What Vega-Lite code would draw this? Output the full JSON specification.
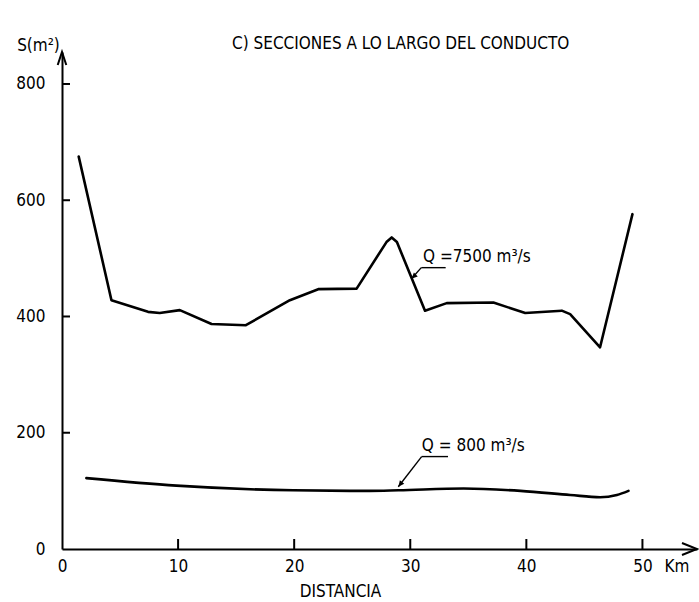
{
  "$schema": "https://vega.github.io/schema/vega-lite/v6.json",
  "width": 635,
  "height": 497,
  "autosize": {"type": "none"},
  "padding": {"left": 62, "top": 52, "right": 2, "bottom": 53},
  "background": "white",
  "config": {
    "font": "DejaVu Sans Condensed",
    "view": {"stroke": null},
    "axis": {
      "grid": false,
      "ticks": false,
      "domainColor": "black",
      "domainWidth": 2,
      "labelColor": "black",
      "labelFontSize": 17,
      "labelFont": "DejaVu Sans Condensed",
      "titleFont": "DejaVu Sans Condensed",
      "titleColor": "black",
      "titleFontWeight": "normal",
      "titleFontSize": 17
    }
  },
  "title": {
    "text": "C) SECCIONES A LO LARGO DEL CONDUCTO",
    "frame": "group",
    "anchor": "start",
    "dx": 170,
    "dy": 21,
    "offset": 4,
    "fontSize": 17,
    "fontWeight": "normal",
    "font": "DejaVu Sans Condensed",
    "color": "black"
  },
  "datasets": {
    "curves": [
      {"serie": "7500", "km": 1.44, "s": 675},
      {"serie": "7500", "km": 4.26, "s": 428},
      {"serie": "7500", "km": 7.41, "s": 408},
      {"serie": "7500", "km": 8.42, "s": 406},
      {"serie": "7500", "km": 10.15, "s": 411},
      {"serie": "7500", "km": 12.88, "s": 387},
      {"serie": "7500", "km": 15.84, "s": 385},
      {"serie": "7500", "km": 19.63, "s": 428},
      {"serie": "7500", "km": 22.07, "s": 447},
      {"serie": "7500", "km": 25.38, "s": 448},
      {"serie": "7500", "km": 27.95, "s": 528},
      {"serie": "7500", "km": 28.4, "s": 536},
      {"serie": "7500", "km": 28.85, "s": 528},
      {"serie": "7500", "km": 31.27, "s": 410},
      {"serie": "7500", "km": 33.14, "s": 423},
      {"serie": "7500", "km": 37.16, "s": 424},
      {"serie": "7500", "km": 39.9, "s": 406},
      {"serie": "7500", "km": 43.05, "s": 410},
      {"serie": "7500", "km": 43.77, "s": 404},
      {"serie": "7500", "km": 46.35, "s": 347},
      {"serie": "7500", "km": 49.14, "s": 576},
      {"serie": "800", "km": 2.1, "s": 122},
      {"serie": "800", "km": 9.86, "s": 109},
      {"serie": "800", "km": 19.9, "s": 101},
      {"serie": "800", "km": 26.5, "s": 100},
      {"serie": "800", "km": 29.0, "s": 101},
      {"serie": "800", "km": 34.6, "s": 104},
      {"serie": "800", "km": 39.5, "s": 100},
      {"serie": "800", "km": 43.77, "s": 93},
      {"serie": "800", "km": 46.35, "s": 89},
      {"serie": "800", "km": 47.8, "s": 93},
      {"serie": "800", "km": 48.8, "s": 100}
    ],
    "notes": [
      {"serie": "7500", "label": "Q =7500  m³/s", "tx": 31.1, "ty": 502, "ux1": 30.95, "ux2": 33.05, "uy": 484, "tipx": 30.1, "tipy": 465},
      {"serie": "800", "label": "Q = 800 m³/s", "tx": 31.0, "ty": 177, "ux1": 30.98, "ux2": 33.25, "uy": 159, "tipx": 28.97, "tipy": 107}
    ],
    "xticks": [{"v": 10}, {"v": 20}, {"v": 30}, {"v": 40}, {"v": 50}],
    "yticks": [{"v": 200}, {"v": 400}, {"v": 600}, {"v": 800}],
    "axisends": [
      {"end": "x", "km": 54.7, "s": 0},
      {"end": "y", "km": 0, "s": 855}
    ],
    "unit": [
      {"km": 51.9, "s": 0, "label": "Km"}
    ]
  },
  "layer": [
    {
      "data": {"name": "curves"},
      "transform": [{"filter": "datum.serie === '7500'"}],
      "mark": {"type": "line", "color": "black", "strokeWidth": 2.6, "strokeJoin": "round", "strokeCap": "round"},
      "encoding": {
        "x": {
          "field": "km", "type": "quantitative",
          "scale": {"domain": [0, 54.7], "nice": false, "zero": false},
          "axis": {
            "values": [0, 10, 20, 30, 40, 50],
            "labelPadding": 9,
            "labelFlush": false,
            "title": "DISTANCIA",
            "titleX": 278,
            "titleY": 42,
            "titleAlign": "center",
            "titleBaseline": "middle"
          }
        },
        "y": {
          "field": "s", "type": "quantitative",
          "scale": {"domain": [0, 855], "nice": false},
          "axis": {
            "values": [0, 200, 400, 600, 800],
            "labelPadding": 17,
            "labelFlush": false,
            "title": "S(m²)",
            "titleAngle": 0,
            "titleX": -24,
            "titleY": -7,
            "titleAlign": "center",
            "titleBaseline": "middle"
          }
        }
      }
    },
    {
      "data": {"name": "curves"},
      "transform": [{"filter": "datum.serie === '800'"}],
      "mark": {"type": "line", "color": "black", "strokeWidth": 2.6, "interpolate": "monotone", "strokeCap": "round"},
      "encoding": {
        "x": {"field": "km", "type": "quantitative"},
        "y": {"field": "s", "type": "quantitative"}
      }
    },
    {
      "data": {"name": "xticks"},
      "mark": {"type": "tick", "orient": "vertical", "color": "black", "thickness": 2, "size": 10, "opacity": 1},
      "encoding": {
        "x": {"field": "v", "type": "quantitative"},
        "y": {"datum": 8.6, "type": "quantitative"}
      }
    },
    {
      "data": {"name": "yticks"},
      "mark": {"type": "tick", "orient": "horizontal", "color": "black", "thickness": 2, "size": 8, "opacity": 1},
      "encoding": {
        "y": {"field": "v", "type": "quantitative"},
        "x": {"datum": 0.345, "type": "quantitative"}
      }
    },
    {
      "data": {"name": "notes"},
      "mark": {"type": "rule", "color": "black", "strokeWidth": 1.4},
      "encoding": {
        "x": {"field": "ux1", "type": "quantitative"},
        "x2": {"field": "ux2"},
        "y": {"field": "uy", "type": "quantitative"},
        "y2": {"field": "uy"}
      }
    },
    {
      "data": {"name": "notes"},
      "mark": {"type": "rule", "color": "black", "strokeWidth": 1.4},
      "encoding": {
        "x": {"field": "ux1", "type": "quantitative"},
        "x2": {"field": "tipx"},
        "y": {"field": "uy", "type": "quantitative"},
        "y2": {"field": "tipy"}
      }
    },
    {
      "data": {"name": "notes"},
      "transform": [{"filter": "datum.serie === '7500'"}],
      "mark": {"type": "point", "shape": "M0,0L0.45,1L-0.45,1Z", "filled": true, "color": "black", "size": 150, "angle": 226, "opacity": 1},
      "encoding": {
        "x": {"field": "tipx", "type": "quantitative"},
        "y": {"field": "tipy", "type": "quantitative"}
      }
    },
    {
      "data": {"name": "notes"},
      "transform": [{"filter": "datum.serie === '800'"}],
      "mark": {"type": "point", "shape": "M0,0L0.45,1L-0.45,1Z", "filled": true, "color": "black", "size": 150, "angle": 218, "opacity": 1},
      "encoding": {
        "x": {"field": "tipx", "type": "quantitative"},
        "y": {"field": "tipy", "type": "quantitative"}
      }
    },
    {
      "data": {"name": "notes"},
      "mark": {"type": "text", "align": "left", "baseline": "middle", "fontSize": 17, "font": "DejaVu Sans Condensed", "color": "black"},
      "encoding": {
        "x": {"field": "tx", "type": "quantitative"},
        "y": {"field": "ty", "type": "quantitative"},
        "text": {"field": "label"}
      }
    },
    {
      "data": {"name": "axisends"},
      "transform": [{"filter": "datum.end === 'x'"}],
      "mark": {"type": "point", "shape": "M-1,-0.4L0,0L-1,0.4", "filled": false, "strokeWidth": 2, "color": "black", "size": 900, "opacity": 1, "clip": false},
      "encoding": {
        "x": {"field": "km", "type": "quantitative"},
        "y": {"field": "s", "type": "quantitative"}
      }
    },
    {
      "data": {"name": "axisends"},
      "transform": [{"filter": "datum.end === 'y'"}],
      "mark": {"type": "point", "shape": "M-0.33,1L0,0L0.33,1", "filled": false, "strokeWidth": 2, "color": "black", "size": 676, "opacity": 1, "clip": false},
      "encoding": {
        "x": {"field": "km", "type": "quantitative"},
        "y": {"field": "s", "type": "quantitative"}
      }
    },
    {
      "data": {"name": "unit"},
      "mark": {"type": "text", "align": "left", "baseline": "top", "dy": 10, "fontSize": 17, "font": "DejaVu Sans Condensed", "color": "black", "clip": false},
      "encoding": {
        "x": {"field": "km", "type": "quantitative"},
        "y": {"field": "s", "type": "quantitative"},
        "text": {"field": "label"}
      }
    }
  ]
}
